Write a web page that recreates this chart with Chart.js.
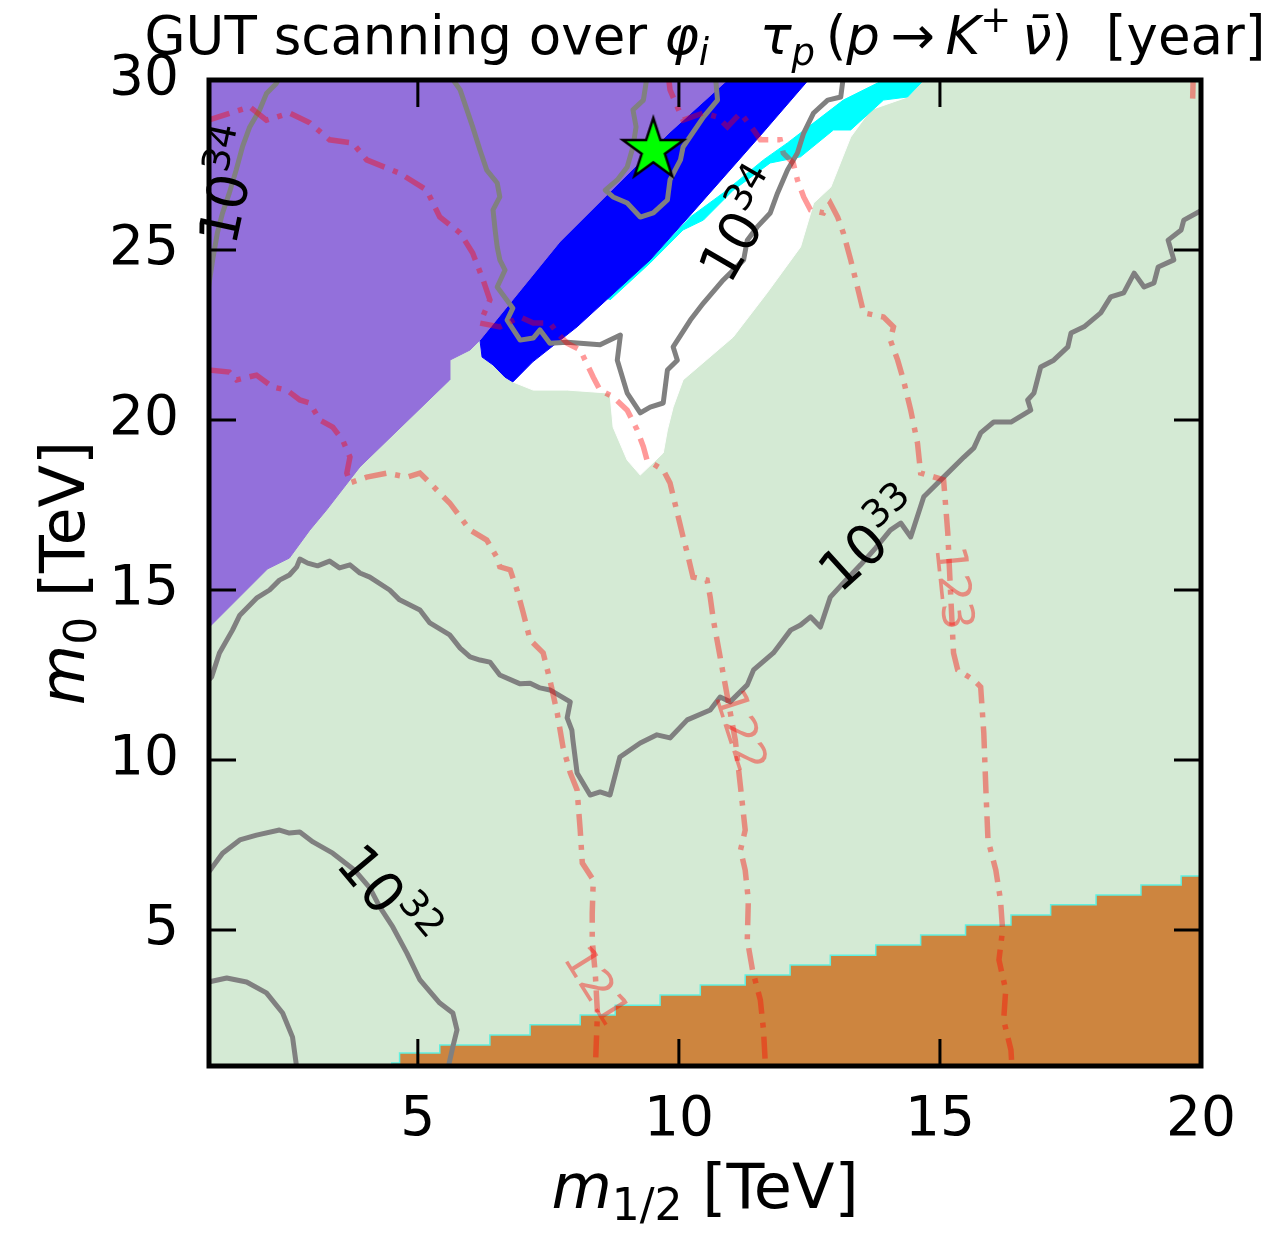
<!DOCTYPE html>
<html>
<head>
<meta charset="utf-8">
<script src="https://cdn.jsdelivr.net/npm/chart.js@4.4.1/dist/chart.umd.min.js"></script>
<style>
  html, body { margin: 0; padding: 0; background: #fff; }
  canvas { display: block; }
</style>
</head>
<body>
<canvas id="chart" width="1281" height="1240"></canvas>
<script>
// axes: m_1/2 and m_0 in TeV
const xTicks = [5, 10, 15, 20];
const yTicks = [5, 10, 15, 20, 25, 30];

// filled regions, [m_1/2, m_0]
const allowedRegion = [[1, 1], [20, 1], [20, 30], [1, 30]];
const whiteRegion = [[10.93, 30], [9.83, 28.47], [7.72, 25.24], [6.19, 22.35], [6.23, 21.85], [6.44, 21.62],
  [6.67, 21.26], [6.82, 21.12], [7.21, 20.88], [7.86, 20.88], [8.68, 20.79], [8.74, 19.79], [9.01, 18.82],
  [9.26, 18.38], [9.70, 19.03], [9.78, 19.71], [9.89, 20.38], [10.08, 21.18], [11.04, 22.44], [11.69, 23.74],
  [12.33, 25.09], [12.58, 26.38], [12.91, 26.85], [13.29, 28.32], [13.67, 29.12], [14.38, 29.5], [14.69, 30]];
const cyanBand = [[8.53, 23.59], [9.45, 24.71], [10.22, 25.97], [10.85, 26.68], [11.62, 27.65], [12.08, 28.15],
  [12.65, 28.82], [13.15, 29.41], [13.92, 30], [14.69, 30], [14.38, 29.5], [13.92, 29.41], [13.29, 28.53],
  [12.96, 28.53], [12.33, 27.74], [11.75, 27.56], [11.04, 26.76], [10.47, 25.88], [10.08, 25.59],
  [9.45, 24.62], [8.68, 23.53]];
const blueBand = [[10.93, 30], [9.83, 28.47], [7.72, 25.24], [6.19, 22.35], [6.23, 21.85], [6.44, 21.62],
  [6.67, 21.26], [6.82, 21.12], [7.20, 21.71], [8.05, 22.74], [9.45, 24.71], [10.22, 26.03], [11.62, 28.47],
  [12.48, 30]];
const purpleRegion = [[1, 30], [10.93, 30], [9.83, 28.47], [7.72, 25.24], [6.19, 22.35], [6.00, 22.06],
  [5.61, 21.76], [5.61, 21.18], [3.89, 18.62], [3.25, 17.35], [2.93, 16.76], [2.54, 15.94], [2.12, 15.62],
  [1, 13.9]];
const orangeSteps = [[3.7, 1.0], [4.50, 1.09], [4.65, 1.38], [5.42, 1.62], [6.38, 1.91], [7.15, 2.21],
  [8.11, 2.50], [8.78, 2.79], [9.64, 3.09], [10.41, 3.38], [11.27, 3.68], [12.13, 3.97], [12.90, 4.26],
  [13.77, 4.56], [14.63, 4.85], [15.49, 5.15], [16.36, 5.44], [17.12, 5.74], [17.99, 6.03], [18.85, 6.32],
  [19.62, 6.59], [20.2, 6.59]];

// proton lifetime contours
const tau34Left = [[2.36, 30.1], [2.29, 29.9], [2.10, 29.6], [1.97, 29.12], [1.78, 28.62], [1.64, 28.03],
  [1.52, 27.35], [1.39, 26.68], [1.26, 26.09], [1.16, 25.5], [1.07, 24.71], [0.99, 23.9]];
const tau34Mid = [[5.63, 30.1], [5.81, 29.71], [5.94, 29.12], [6.05, 28.62], [6.19, 27.94], [6.32, 27.35],
  [6.52, 26.97], [6.57, 26.56], [6.44, 26.18], [6.48, 25.59], [6.52, 25.09], [6.57, 24.71], [6.67, 24.41],
  [6.52, 23.91], [6.82, 23.29], [6.71, 22.94], [6.96, 22.35], [7.21, 22.41], [7.34, 22.65], [7.53, 22.26],
  [7.86, 22.29], [8.49, 22.21], [8.88, 22.5], [8.82, 21.76], [9.01, 20.79], [9.26, 20.21], [9.45, 20.38],
  [9.70, 20.5], [9.78, 21.47], [9.97, 21.76], [9.89, 22.15], [10.22, 22.94], [10.47, 23.44], [10.85, 24.12],
  [11.24, 24.71], [11.31, 25.29], [11.50, 25.68], [11.75, 26.09], [11.89, 26.68], [12.08, 27.35],
  [12.27, 27.85], [12.39, 28.44], [12.58, 29.03], [12.85, 29.41], [13.10, 29.5], [13.15, 30.1]];
const tau34Star = [[9.39, 30.1], [9.32, 29.41], [9.12, 29.12], [9.18, 28.62], [9.12, 28.03], [9.01, 27.44],
  [8.82, 27.06], [8.59, 26.76], [8.74, 26.56], [9.01, 26.38], [9.26, 25.97], [9.51, 26.09], [9.78, 26.47],
  [9.83, 27.06], [10.03, 27.65], [10.08, 28.03], [10.47, 28.91], [10.74, 29.41], [10.70, 30.1]];
const tau33 = [[0.99, 12.35], [1.05, 12.44], [1.20, 13.15], [1.45, 13.82], [1.59, 14.26], [1.91, 14.76],
  [2.16, 15.0], [2.35, 15.29], [2.54, 15.44], [2.68, 15.68], [2.74, 15.91], [2.89, 15.79], [3.08, 15.71],
  [3.31, 15.85], [3.50, 15.65], [3.70, 15.74], [3.89, 15.5], [4.08, 15.38], [4.46, 15.0], [4.65, 14.71],
  [5.04, 14.41], [5.23, 14.03], [5.61, 13.68], [5.81, 13.29], [6.00, 13.03], [6.19, 12.94], [6.38, 12.88],
  [6.57, 12.5], [6.96, 12.24], [7.15, 12.26], [7.34, 12.12], [7.53, 12.06], [7.92, 11.71], [7.86, 11.24],
  [7.95, 10.88], [7.97, 10.59], [8.05, 9.62], [8.30, 8.97], [8.49, 9.06], [8.68, 8.97], [8.87, 10.09],
  [9.26, 10.5], [9.58, 10.74], [9.83, 10.65], [10.16, 11.18], [10.60, 11.47], [10.79, 11.85], [10.98, 11.71],
  [11.31, 12.21], [11.43, 12.65], [11.81, 13.15], [12.14, 13.82], [12.33, 13.97], [12.52, 14.21],
  [12.71, 13.91], [12.90, 14.79], [13.15, 15.21], [13.48, 15.74], [13.77, 16.24], [14.05, 16.76],
  [14.25, 16.97], [14.44, 16.56], [14.69, 17.74], [15.07, 18.32], [15.46, 18.91], [15.65, 19.18],
  [15.78, 19.62], [16.03, 19.94], [16.36, 19.94], [16.74, 20.29], [16.68, 20.59], [16.80, 20.79],
  [16.93, 21.56], [17.18, 21.76], [17.45, 22.15], [17.51, 22.56], [17.76, 22.74], [18.08, 23.15],
  [18.27, 23.62], [18.52, 23.74], [18.72, 24.32], [18.91, 23.91], [19.10, 24.03], [19.18, 24.5],
  [19.48, 24.71], [19.37, 25.29], [19.62, 25.59], [19.67, 25.88], [20.05, 26.2]];
const tau32 = [[0.99, 6.7], [1.05, 6.82], [1.26, 7.26], [1.59, 7.65], [1.91, 7.79], [2.35, 7.94], [2.54, 7.85],
  [2.74, 7.88], [2.99, 7.59], [3.37, 7.26], [3.79, 6.76], [4.08, 6.24], [4.27, 5.68], [4.52, 5.09],
  [4.79, 4.32], [5.04, 3.53], [5.42, 2.85], [5.67, 2.56], [5.75, 2.06], [5.67, 1.56], [5.58, 0.95]];
const tau31 = [[0.99, 3.47], [1.34, 3.59], [1.72, 3.47], [2.10, 3.15], [2.41, 2.56], [2.60, 1.85], [2.68, 0.95]];

// Higgs mass contours (GeV)
const mh121 = [[0.99, 21.47], [1.39, 21.41], [1.53, 21.18], [1.91, 21.32], [2.22, 20.97], [2.49, 20.88],
  [2.74, 20.59], [2.93, 20.5], [3.12, 20.0], [3.37, 19.79], [3.56, 19.41], [3.70, 18.91], [3.64, 18.44],
  [3.70, 18.15], [4.02, 18.32], [4.41, 18.44], [4.79, 18.32], [5.04, 18.44], [5.23, 18.15], [5.42, 17.85],
  [5.61, 17.56], [6.0, 16.76], [6.32, 16.47], [6.51, 15.97], [6.57, 15.68], [6.77, 15.59], [6.90, 15.0],
  [7.02, 14.32], [7.15, 13.53], [7.40, 13.15], [7.53, 12.35], [7.67, 11.38], [7.78, 10.38], [7.92, 9.62],
  [8.05, 9.12], [8.11, 7.94], [8.15, 6.97], [8.36, 6.47], [8.34, 5.5], [8.34, 4.71], [8.40, 3.68],
  [8.44, 2.56], [8.40, 0.95]];
const mh122 = [[0.99, 28.82], [1.78, 29.21], [2.10, 28.82], [2.54, 29.03], [2.93, 28.74], [3.31, 28.24],
  [3.75, 28.15], [4.02, 27.65], [4.65, 27.26], [5.17, 26.76], [5.42, 25.97], [5.81, 25.5], [6.05, 24.91],
  [6.25, 24.12], [6.38, 23.53], [6.19, 22.85], [6.57, 22.74], [6.96, 23.03], [7.21, 22.85], [7.53, 22.85],
  [7.67, 22.56], [7.86, 22.26], [8.11, 22.06], [8.36, 21.26], [8.49, 20.88], [8.74, 20.68], [9.01, 20.29],
  [9.20, 19.71], [9.32, 19.21], [9.39, 18.82], [9.70, 18.53], [9.83, 18.15], [9.97, 17.26], [10.08, 16.56],
  [10.16, 16.09], [10.27, 15.38], [10.54, 15.29], [10.60, 14.79], [10.66, 14.12], [10.79, 13.03],
  [10.93, 11.85], [11.08, 10.59], [11.18, 9.21], [11.27, 7.94], [11.18, 7.35], [11.27, 6.76], [11.33, 5.88],
  [11.31, 4.71], [11.41, 3.82], [11.56, 2.94], [11.62, 2.06], [11.66, 0.95]];
const mh123 = [[9.80, 30.1], [9.83, 29.71], [10.08, 28.82], [10.47, 29.03], [10.74, 28.91], [10.93, 28.62],
  [11.18, 29.03], [11.43, 28.53], [11.56, 28.24], [11.94, 28.24], [12.0, 27.85], [12.19, 27.56],
  [12.27, 27.06], [12.39, 26.56], [12.52, 26.18], [12.77, 26.09], [12.90, 26.38], [13.04, 25.97],
  [13.15, 25.5], [13.29, 24.71], [13.42, 23.91], [13.54, 23.15], [13.92, 23.03], [14.11, 22.74],
  [14.05, 22.35], [14.19, 21.76], [14.30, 21.18], [14.44, 20.29], [14.57, 19.32], [14.63, 18.44],
  [15.07, 18.24], [15.15, 16.68], [15.21, 14.71], [15.26, 13.15], [15.34, 12.65], [15.65, 12.35],
  [15.78, 12.15], [15.84, 10.79], [15.88, 9.12], [15.92, 7.65], [16.07, 6.76], [16.16, 5.88], [16.20, 5.0],
  [16.13, 4.12], [16.26, 3.24], [16.22, 2.35], [16.36, 1.47], [16.38, 0.95]];
const mh124 = [[19.85, 30.1], [19.84, 29.4]];

// benchmark point
const benchmark = [[9.51, 27.94]];

// contour labels (position in data units, angle in degrees)
const tauLabels = [
  { base: '10', sup: '34', x: 1.37, y: 26.91, angle: -78 },
  { base: '10', sup: '34', x: 11.21, y: 25.74, angle: -60 },
  { base: '10', sup: '33', x: 13.67, y: 16.47, angle: -42 },
  { base: '10', sup: '32', x: 4.42, y: 5.97, angle: 50 }
];
const mhLabels = [
  { text: '121', x: 8.45, y: 3.38, angle: 58 },
  { text: '122', x: 11.21, y: 10.88, angle: 72 },
  { text: '123', x: 15.30, y: 15.06, angle: 84 }
];

const FONT = '"DejaVu Sans", sans-serif';
const GRAY = '#808080';
const HIGGS = 'rgba(255, 0, 0, 0.4)';

const toXY = arr => arr.map(([x, y]) => ({ x, y }));

function region(data, color, order, extra) {
  return Object.assign({
    data: toXY(data), showLine: true, fill: 'shape', backgroundColor: color,
    borderColor: color, borderWidth: 1, pointRadius: 0, order: order
  }, extra || {});
}

function tauLine(data) {
  return { data: toXY(data), showLine: true, fill: false, borderColor: GRAY, borderWidth: 5,
    pointRadius: 0, borderJoinStyle: 'round', borderCapStyle: 'round', order: 2 };
}

function mhLine(data) {
  return { data: toXY(data), showLine: true, fill: false, borderColor: HIGGS, borderWidth: 5.5,
    borderDash: [22, 9, 5, 9], pointRadius: 0, order: 1 };
}

function makeStar(r) {
  const c = document.createElement('canvas');
  const s = Math.ceil(r * 2 + 8);
  c.width = c.height = s;
  const g = c.getContext('2d');
  g.translate(s / 2, s / 2);
  g.beginPath();
  for (let i = 0; i < 10; i++) {
    const rr = i % 2 ? r * 0.382 : r;
    const a = -Math.PI / 2 + i * Math.PI / 5;
    g.lineTo(rr * Math.cos(a), rr * Math.sin(a));
  }
  g.closePath();
  g.fillStyle = '#00ff00';
  g.fill();
  g.lineWidth = 2.5;
  g.strokeStyle = '#000';
  g.stroke();
  return c;
}

// draws a run of text pieces: {t, s (size), it (italic), dy}
function drawRich(ctx, parts, x, y) {
  let w = 0;
  parts.forEach(p => {
    ctx.font = (p.it ? 'italic ' : '') + p.s + 'px ' + FONT;
    w += ctx.measureText(p.t).width;
  });
  let cx = x - w / 2;
  ctx.textAlign = 'left';
  ctx.textBaseline = 'alphabetic';
  parts.forEach(p => {
    ctx.font = (p.it ? 'italic ' : '') + p.s + 'px ' + FONT;
    ctx.fillText(p.t, cx, y + (p.dy || 0));
    cx += ctx.measureText(p.t).width;
  });
}

const decorations = {
  id: 'decorations',
  afterDatasetsDraw(chart) {
    const { ctx, scales: { x, y } } = chart;
    ctx.save();
    tauLabels.forEach(l => {
      const F = 55, f = 38;
      ctx.save();
      ctx.translate(x.getPixelForValue(l.x), y.getPixelForValue(l.y));
      ctx.rotate(l.angle * Math.PI / 180);
      ctx.fillStyle = '#000';
      drawRich(ctx, [{ t: l.base, s: F }, { t: l.sup, s: f, dy: -0.42 * F }], 0, 0.36 * F);
      ctx.restore();
    });
    mhLabels.forEach(l => {
      ctx.save();
      ctx.translate(x.getPixelForValue(l.x), y.getPixelForValue(l.y));
      ctx.rotate(l.angle * Math.PI / 180);
      ctx.fillStyle = HIGGS;
      drawRich(ctx, [{ t: l.text, s: 44 }], 0, 16);
      ctx.restore();
    });
    ctx.restore();
  },
  afterDraw(chart) {
    const { ctx, chartArea: a, scales: { x, y } } = chart;
    ctx.save();
    ctx.strokeStyle = '#000';
    ctx.lineWidth = 3;
    ctx.beginPath();
    xTicks.forEach(v => {
      const px = x.getPixelForValue(v);
      ctx.moveTo(px, a.bottom); ctx.lineTo(px, a.bottom - 27);
      ctx.moveTo(px, a.top); ctx.lineTo(px, a.top + 27);
    });
    yTicks.forEach(v => {
      const py = y.getPixelForValue(v);
      ctx.moveTo(a.left, py); ctx.lineTo(a.left + 27, py);
      ctx.moveTo(a.right, py); ctx.lineTo(a.right - 27, py);
    });
    ctx.stroke();
    ctx.lineWidth = 5;
    ctx.strokeRect(a.left, a.top, a.right - a.left, a.bottom - a.top);

    ctx.fillStyle = '#000';
    const cx = (a.left + a.right) / 2;
    const T = 53, t = 37;
    drawRich(ctx, [
      { t: 'GUT scanning over ', s: T },
      { t: 'φ', s: T, it: true },
      { t: 'i', s: t, it: true, dy: 0.2 * T },
      { t: '   ', s: T },
      { t: 'τ', s: T, it: true },
      { t: 'p', s: t, it: true, dy: 0.2 * T },
      { t: '\u2009(', s: T },
      { t: 'p', s: T, it: true },
      { t: '\u2009→\u2009', s: T },
      { t: 'K', s: T, it: true },
      { t: '+', s: t, dy: -0.42 * T },
      { t: '\u2009ν\u0304', s: T, it: true },
      { t: ')', s: T },
      { t: '  [year]', s: T }
    ], cx, 54);

    const L = 62, l = 44;
    drawRich(ctx, [
      { t: 'm', s: L, it: true },
      { t: '1/2', s: l, dy: 0.2 * L },
      { t: ' [TeV]', s: L }
    ], cx, 1208);

    ctx.save();
    ctx.translate(84, (a.top + a.bottom) / 2);
    ctx.rotate(-Math.PI / 2);
    drawRich(ctx, [
      { t: 'm', s: L, it: true },
      { t: '0', s: l, dy: 0.2 * L },
      { t: ' [TeV]', s: L }
    ], 0, 0);
    ctx.restore();
    ctx.restore();
  }
};

const tickFont = { family: FONT, size: 55 };

new Chart(document.getElementById('chart'), {
  type: 'scatter',
  data: {
    datasets: [
      { data: toXY(benchmark), pointStyle: makeStar(32), pointRadius: 10, order: 0 },
      mhLine(mh121), mhLine(mh122), mhLine(mh123), mhLine(mh124),
      tauLine(tau34Left), tauLine(tau34Mid), tauLine(tau34Star), tauLine(tau33), tauLine(tau32), tauLine(tau31),
      { data: toXY(orangeSteps), showLine: true, stepped: true, fill: 'start', backgroundColor: '#cd853f',
        borderColor: '#5ff0e0', borderWidth: 1.5, pointRadius: 0, order: 3 },
      region(purpleRegion, '#9370db', 4),
      region(blueBand, '#0000ff', 5),
      region(cyanBand, '#00ffff', 6),
      region(whiteRegion, '#ffffff', 7),
      region(allowedRegion, '#d4ead4', 8)
    ]
  },
  options: {
    responsive: false,
    animation: false,
    devicePixelRatio: 1,
    layout: { padding: { top: 80, right: 80, left: 0, bottom: 0 } },
    plugins: { legend: { display: false }, tooltip: { enabled: false }, title: { display: false } },
    elements: { line: { tension: 0 } },
    scales: {
      x: {
        type: 'linear', min: 1, max: 20,
        grid: { display: false, drawTicks: false }, border: { display: false },
        ticks: { font: tickFont, color: '#000', padding: 22, maxRotation: 0, autoSkip: false },
        afterBuildTicks: s => { s.ticks = xTicks.map(v => ({ value: v })); },
        afterFit: s => { s.height = 174; }
      },
      y: {
        type: 'linear', min: 1, max: 30,
        grid: { display: false, drawTicks: false }, border: { display: false },
        ticks: { font: tickFont, color: '#000', padding: 30, autoSkip: false },
        afterBuildTicks: s => { s.ticks = yTicks.map(v => ({ value: v })); },
        afterFit: s => { s.width = 209; }
      }
    }
  },
  plugins: [decorations]
});
</script>
</body>
</html>
